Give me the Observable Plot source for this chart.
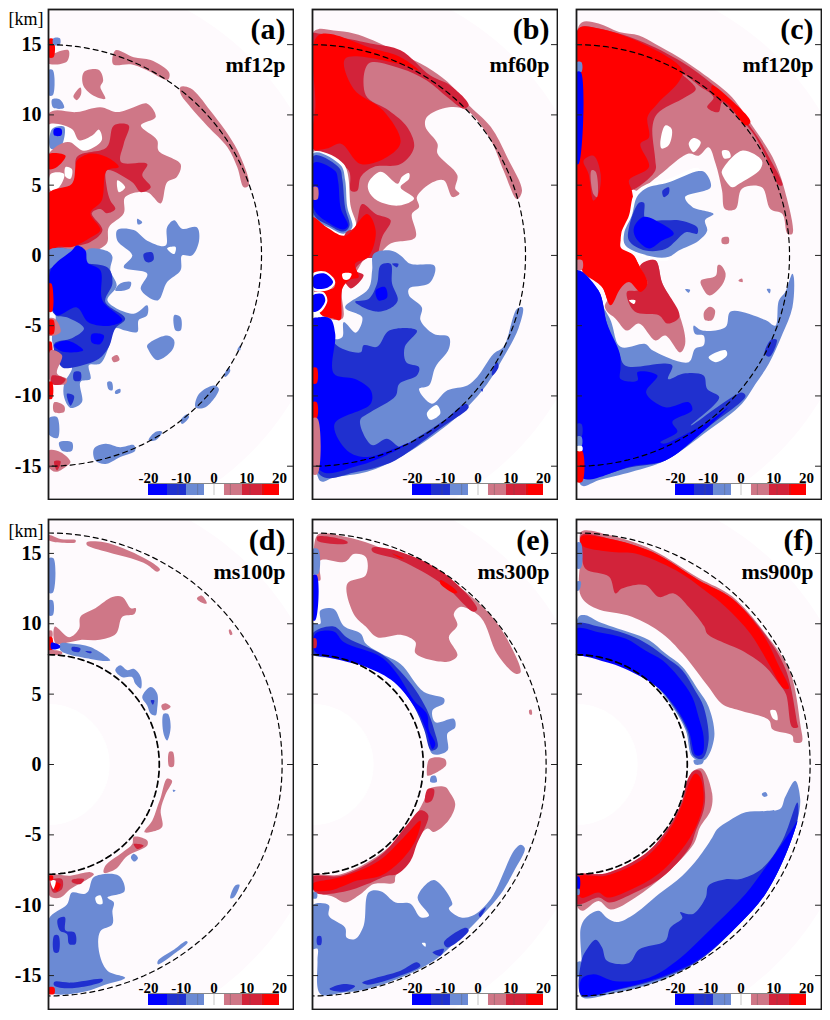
<!DOCTYPE html>
<html>
<head>
<meta charset="utf-8">
<script src="https://cdn.jsdelivr.net/npm/d3@7"></script>
<script src="https://cdn.jsdelivr.net/npm/@observablehq/plot@0.6"></script>
<style>
  body { margin: 0; background: white; }
  #page { position: relative; width: 830px; height: 1020px; overflow: hidden; }
  #page > svg { position: absolute; }
</style>
</head>
<body>
<div id="page"></div>
<script>
// colour levels: -3..3 = strong blue .. strong red, 0 = white gap
const levels = [-3, -2, -1, 0, 1, 2, 3];
const levelColors = ["#0000ff", "#2030cf", "#6b8ad4", "#ffffff", "#cf7787", "#d2233a", "#ff0000"];
const legendBreaks = [-20, -14.2, -8.4, -2.9, 3.2, 8.7, 14.8, 20];
const legendTicks = [-20, -10, 0, 10, 20];
const legendLines = [-11, -5, 0, 5, 11, 15];
const yTicks = [-15, -10, -5, 0, 5, 10, 15];

// each shape: [level, [x, y, x, y, ...]] in km, painted in order
const shapesA = [
  [1,[4.72,14.6,6,14.1,7.2,13.9,8.5,13,8.4,12.5,6.9,13.2,5.8,13.6,4.55,13.6]],
  [1,[9.3,12,10,11.9,11.4,10.3,13.3,7.5,14.1,5,13.75,4.85,13.3,6.25,12.6,7.7,11.2,9.2,10,10.55,9.3,11.5]],
  [1,[0,14.1,1.4,14.6,1.3,13.8,0,13.65]],
  [3,[0,15.4,.35,15.4,.35,14.1,0,14.1]],
  [-1,[.35,15.45,.8,15.45,.8,15,.35,15]],
  [1,[2.5,13.05,3.55,13.2,3.85,12.45,3.65,12,4,11.15,3.3,11.3,2.45,12.1]],
  [1,[1.75,11.3,2.25,11.95,2.3,11.5,2,11.05]],
  [-1,[0,13.2,.3,13.2,.3,11.4,0,11.4]],
  [-1,[.25,11.1,.8,11.1,1.1,10.5,.35,10.5]],
  [1,[0,10.1,2,10.2,3.65,10.55,4.85,10.2,6,10.55,6.95,10.8,7.55,9.85,6.5,9.25,7.65,8.2,7.75,7.45,9.3,6.5,9.05,5.6,8.35,5.2,7.9,3.7,6.95,4.5,5.4,4.15,5.3,3,4.25,2,4.1,.85,2.95,.25,0,.1]],
  [0,[0,9.3,1.65,9,2.15,8.2,3.1,8.55,3.55,8.95,3.75,8.2,2.5,7.45,1.45,8.05,1.05,7,0,7.35]],
  [-1,[.25,9,1.1,9.15,.85,7.7,.15,7.6]],
  [-3,[.4,9,.9,9,.9,8.55,.4,8.55]],
  [1,[0,7.2,1.45,8.05,1.9,6.75,1.8,5.2,0,4.4]],
  [0,[.15,5.8,1.1,5.8,.75,4.85,.15,4.6]],
  [0,[1.2,6.3,1.65,6.15,1.55,5.45,1.2,5.6]],
  [0,[4.85,5.35,5.4,4.85,4.95,4.5]],
  [2,[4.6,9.25,5.65,9.25,5.3,7.95,5.1,6.65,6.95,6.5,6.6,5.7,7.2,4.85,6.5,4.5,5.9,5.2,4.1,6.05,4.1,4.85,4.35,3.9,4.7,3.3,4.1,3,3.65,3.3,3.05,3,3.8,1.8,2.95,.95,1.3,.6,0,.6,0,4.4,1.9,5,2,7,4.1,7.7]],
  [3,[2,6.75,2.95,7.25,4.1,7,4.95,6.3,4.1,6.05,3.75,3.9,2.95,3,3.65,1.8,2.85,1.2,1.65,.6,.6,.6,0,.1,0,4.4,1.65,5.1,1.9,6.3]],
  [3,[0,7.2,1.2,7.1,.6,6.3,0,6.15]],
  [-1,[4.85,1.8,6,1.8,6.95,1.05,8.25,.7,8.35,2,8.85,2.5,9.4,1.9,10.45,2,10.6,1.05,10.1,0,9.4,0,9.3,-1.05,8.35,-1.9,7.7,-3.2,6.5,-2.4,6.95,-1.3,5.3,-.85,5.9,0,4.85,1.05]],
  [0,[8.35,.5,8.95,.6,8.85,.1]],
  [-2,[6.7,.1,7.3,.2,7.4,-.3,7.05,-.5,6.8,-.4]],
  [-1,[6.25,2.6,6.6,2.35,6.3,2.2]],
  [-1,[5.05,-2,5.8,-1.9,5.7,-2.35,4.7,-2.5]],
  [-1,[8.85,-4.25,9.3,-4.4,9.3,-5.35,8.95,-5.35]],
  [-1,[6.95,-6.4,8.35,-5.7,8.85,-6.05,8.7,-6.75,7.65,-7.45,7.05,-6.75]],
  [3,[0,.35,1.55,.35,1.4,-.1,.55,-.35,0,-.85]],
  [-1,[2.6,.35,2.95,.5,4.25,.25,4.5,-.1,4.35,-1.05,4.8,-2.15,4.15,-3.2,6,-4.15,6.95,-3.55,6.95,-4.25,6.35,-4.6,6.25,-5.45,5.4,-5.35,4.7,-5.2,4.25,-6.5,3.65,-7.7,2.85,-7.8,2.95,-8.8,2.25,-9,2.35,-10.45,1.55,-10.85,1.1,-10.1,1.1,-9.15,1.65,-7.95,.85,-7.45,.25,-6.05,.5,-4.25,0,-3.2,0,.35]],
  [-2,[2.85,-.6,4.25,-.95,4.5,-2,4,-3.3,5.4,-4.5,4.7,-5.2,4.25,-6.5,3.55,-7.35,1.8,-7.95,.95,-7.95,.4,-6.3,1.65,-5.9,2.5,-5.2,1.3,-4.4,.5,-4.25,0,-3.2,0,-1.05]],
  [-3,[.15,-1.05,1.65,.35,2,.7,2.6,.35,2.75,-.5,3.65,-1.05,3.8,-3.2,5.2,-4.6,4.35,-5,2.8,-4.75,2,-3.7,.6,-4.25,.15,-3.2]],
  [-3,[3.05,-5.6,3.9,-5.7,3.65,-6.3,3.05,-6.2]],
  [-3,[.4,-6.4,1.3,-6.05,2.45,-6.75,1.3,-6.9,.75,-6.75]],
  [-2,[1.8,-8.3,2.25,-8.3,2.25,-8.9,1.8,-8.9]],
  [-2,[1.3,-9.85,1.8,-10,1.55,-10.7]],
  [-1,[10.6,-9.85,11.65,-9.25,12,-9.5,11.05,-10.8,10.35,-10.8]],
  [-1,[9.3,-11.75,9.75,-11.3,9.9,-11.5,9.4,-12]],
  [-1,[7.05,-13.15,7.55,-12.55,8,-12.55,7.55,-13.15]],
  [-1,[12.35,-8.55,12.7,-8,12.8,-8.2,12.45,-8.65]],
  [-1,[13.3,-6.75,13.5,-6.4,13.5,-6.75]],
  [-1,[3.2,-13.75,4,-13.4,5.05,-13.65,6,-13.5,6.1,-13.9,5.05,-14.35,4,-14.85,3.3,-14.6]],
  [-1,[.75,-13.3,1.65,-13.3,1.65,-13.9,.95,-13.9]],
  [-1,[0,-11.6,.6,-11.5,.65,-13,0,-12.7]],
  [-1,[4.15,-9,4.45,-9,4.5,-9.6,4.25,-9.55]],
  [-1,[4.7,-9.65,5.05,-9.5,5.05,-9.75,4.7,-9.85]],
  [1,[4.45,-7.3,4.85,-7.1,5,-7.45,4.6,-7.6]],
  [1,[0,-4.5,.45,-4.5,.85,-5.45,0,-5.7]],
  [3,[0,-4.6,.35,-4.6,.35,-5.6,0,-5.6]],
  [3,[0,-2,.2,-2,.25,-4,0,-4]],
  [3,[0,-6.15,.2,-6.15,.2,-7.45,0,-7.45]],
  [1,[.15,-6.75,.95,-7.1,.6,-8.4,1.3,-8.8,1.2,-9.15,.15,-9]],
  [2,[.25,-8.55,1.2,-8.8,.95,-9.15,.25,-9.15]],
  [3,[0,-9,.25,-9,.25,-10.2,0,-10.2]],
  [1,[.4,-10.45,1.1,-10.7,1.1,-11.15,.4,-11.15]],
  [1,[0,-13.9,.85,-14,1.55,-14.7,1.2,-15.05,.5,-15.4,0,-15.05]],
  [2,[.4,-14.65,.85,-14.65,.6,-15.3]]
];

const shapesB = [
  [1,[.4,16.1,1.5,16,2.9,15.8,4.3,15.3,6.2,14.35,8.05,13.4,9.5,12.35,10.9,10.8,12.55,9.15,13.7,7,14.75,4.6,14.4,4,13.45,6.05,12.55,8.2,10.9,10.3,9.6,10.55,8.05,9.85,7.95,9.15,8.8,7.95,8.8,7.25,10.2,5.7,10.05,4.75,10.35,4.4,9.85,4.15,9.25,5.35,8.45,5.2,7.35,4.15,7.5,3.45,7,2.95,7.25,1.3,5.5,.85,4.45,-.1,3.85,0,3.15,-1.05,2.1,-2.35,2.1,-4.5,.55,-4.15,0,0,0,15.8]],
  [0,[3.95,5.2,4.8,5.95,6,5.1,6.3,5.6,6.8,5.85,6.8,5.45,6.2,4.85,7.15,4.05,6.1,3.55,4.55,3.9,3.95,4.6]],
  [2,[.4,15.8,4.3,15.05,6.2,14.6,8.3,12.8,9.7,12.1,11,10.7,10.65,10.45,9.5,11.25,8.05,12.45,6.2,13.3,3.95,13.65,3.75,11.4,5.4,10.3,6.65,9.15,7.15,7.7,6.2,6.5,4.3,6.3,3.4,5.6,3.15,4.6,2.7,4.6,2.55,6.05,0,7.7,0,15.8]],
  [3,[.4,15.65,4.3,14.7,6.2,14.1,7.5,13.15,6.2,13.6,2.3,14,2.9,11.85,5,10.3,6.2,8.05,5.25,7,3.4,6.5,2,7.95,1,7.6,0,7.6,.2,10.55]],
  [0,[0,7.35,2.2,6.5,2.7,3.45,3.05,2.05,2.2,1.3,0,2.95]],
  [-1,[.1,7.3,2,6.4,2.3,5.35,2.45,3.45,2.8,2,2.2,1.55,1.15,2,.1,2.7]],
  [-2,[.1,7.1,1.9,6.2,2.1,5.4,2.3,3.4,2.6,2.1,2.2,1.7,1.15,2.15,.1,2.9]],
  [-3,[.1,6.6,1.6,6,1.8,5.3,2,3.3,2.5,2.1,2.15,1.85,1.15,2.3,.1,3.3]],
  [1,[0,4.85,.35,4.85,.35,4,0,4]],
  [2,[3.5,3.65,4.45,2.95,5.5,2.5,4.9,1.3,4.45,-.1,3.75,-.25,3,-1.05,3.6,-1.4,2.7,-2.35,2.2,-1.9,2,-3.2,2.3,1.55,3,2]],
  [3,[0,2.7,1,2,2.3,1.4,3.85,2.95,4.45,1.75,3.95,-.1,3,-.6,3.25,-1.55,2.7,-1.7,2.1,-2.35,1.95,-4.6,1.5,-4.5,.55,-4.15,.8,-3,.2,-2.5,1.5,-2.3,1.5,-1.6,0,-1.2]],
  [0,[0,-1.3,.9,-1.15,1.6,-1.9,1.15,-2.45,0,-2.45]],
  [-3,[.1,-1.45,.9,-1.3,1.45,-1.9,1.05,-2.3,.1,-2.3]],
  [0,[0,-2.7,.75,-2.6,1.05,-3.2,.55,-4.05,0,-4.15]],
  [-3,[0,-2.85,.7,-2.75,.9,-3.2,.45,-3.9,0,-4]],
  [0,[2.1,-1.3,2.75,-1.3,2.55,-1.7,2.2,-1.7]],
  [-1,[4.3,.1,5.5,.35,6.2,0,6.9,-.6,8.55,-.7,8.65,-1.05,8.2,-2,6.8,-2.35,6.8,-2.85,7.7,-3.7,7.6,-4.6,8.55,-5.6,9.6,-5.8,9.6,-6.65,8.65,-7.95,8.2,-9.25,7.5,-9.5,8.4,-10.55,9.5,-9.6,10.9,-9.25,11.6,-8.65,12.75,-7,13.45,-6.5,14.4,-3.8,14.8,-3.7,14.5,-5.2,13.45,-7.25,12.3,-9.15,10.9,-10.8,9,-12.45,6.2,-14.35,3.85,-15.4,1.5,-15.8,.55,-16.05,.4,-4.75,1.5,-5.95,2.1,-5.8,2.2,-4.75,3.05,-5.5,3.5,-4.4,2.3,-3.7,3.95,-2.35,4.2,-1.05]],
  [0,[8.05,-11.25,8.75,-10.65,9,-11.25,8.3,-11.7]],
  [-2,[4.8,-.7,5.5,-.6,5.6,-2,6,-3.2,5.4,-3.8,4.45,-4,3,-3.3,3.95,-3.1,4.55,-2]],
  [-2,[5.6,-.6,6.05,-.6,5.95,-.85]],
  [-3,[4.45,-2.5,5.1,-2.25,5.25,-3,4.65,-3.2]],
  [-2,[1.6,-6.3,3.4,-6.9,3.6,-6.4,4.55,-6.5,5.4,-5.35,7.35,-5.35,6.5,-6.5,6.6,-7.6,7.5,-7.95,7.35,-8.55,6.1,-9.15,5.85,-10,4.1,-11.15,3.35,-11.75,4.2,-13.5,5.25,-13.05,6.2,-13.65,7.25,-13.05,9.25,-11.75,10.8,-10.55,11,-10.8,9,-12.3,6.45,-14.2,5.25,-14.85,3.15,-15.4,.55,-15.65,.4,-4.4,1.5,-5.35]],
  [-3,[.4,-4.5,1.25,-4.5,1.6,-5.6,1.5,-8.4,3,-8.8,4.1,-9.6,4.1,-10.55,1.55,-12,2.45,-13.9,3.85,-14.35,6.9,-13.3,5.25,-14.2,3.25,-14.95,.55,-15.3]],
  [-3,[0,-4.5,.5,-4.5,.5,-7.2,0,-7.2]],
  [-2,[12.65,-8.2,13,-7.6,13.1,-7.95,12.65,-8.55]],
  [-2,[11.85,-9.55,12,-9.5,11.95,-9.7]],
  [3,[0,-8,.3,-8,.3,-9.1,0,-9.1]],
  [3,[0,-10.45,.3,-10.45,.3,-11.6,0,-11.6]],
  [1,[0,-11.6,.35,-11.6,.35,-15.55,0,-15.55]]
];

const shapesC = [
  [1,[.4,16.6,1.55,16.5,3,15.9,4.4,15.65,5.55,15.05,7.2,14.1,9.55,12.45,10.95,11.25,12.6,8.9,13.8,7,14.6,4.85,15.2,1.55,14.85,1.55,14.5,2.95,13.65,3.3,13.05,4.85,11.65,4.75,11.2,3.3,10.45,3.3,10.25,4.6,9.8,6.5,9.3,7.7,8.6,7.1,7.9,7.25,5.7,5.6,4.3,4.6,3.7,4.85,0,4.85,0,15.8]],
  [0,[10.25,7.45,10.7,7.45,10.85,7,10.4,6.9]],
  [0,[10.25,6.05,11.65,7.45,13.05,6.75,12.95,6.15,11.45,5.1,10.95,4.85,10.25,5.8]],
  [0,[7.9,7.95,8.25,8.35,8.75,8.05,8.25,7.35]],
  [0,[5.9,7.95,6.25,9.25,6.7,9,6.5,7.85,6,7.6]],
  [2,[.3,16.25,1.55,16.15,4.4,15.3,7.45,13.75,9.55,12.2,10.95,10.8,12.6,8.65,13.55,7,14.5,5,14.25,5,13.3,7.1,12.35,8.8,10.95,10.3,10.25,10.9,10,10.2,9.2,10.55,9.65,11.25,8.6,12.1,7.7,12.8,7.45,12.9,8.4,11.85,7.65,11.25,5.7,10.1,5.35,9.15,5.55,6.75,5.55,6.05,4.3,4.85,3.7,4.6,0,4.6,0,15.8]],
  [3,[.3,16.25,1.55,16.15,4.4,15.2,7.45,13.2,7.2,12.35,5.7,10.8,5,9.85,5.1,8.4,4.5,7.95,5.1,6.3,3.7,5.35,3.9,4.6,4.05,2.95,3.45,1.8,3.1,.6,3.9,.1,4.4,-.7,5,-2,4.5,-2.6,3.7,-1.9,3.1,-2.35,2.4,-3.55,1.8,-2.25,.4,-1.05,0,-.85,0,15.8]],
  [3,[9.55,12.1,10.95,11,12.25,9.5,11.9,9.25,10.75,10.7,9.55,11.6]],
  [2,[.5,6.75,1.2,7.1,1.7,5.8,1.55,4.4,1.2,3.9,.85,5.8]],
  [1,[1.05,6.05,1.35,5.95,1.45,4.15,1.2,4.35]],
  [-1,[0,13.75,.35,13.75,.35,13.05,0,13.05]],
  [-3,[0,13.05,.3,13.05,.15,6.5,0,6.5]],
  [0,[4.05,4.35,4.8,5,6.5,5.45,8.6,6.2,8.7,5,5,1,6.5,-.3,5.4,-.3,3.25,.6,3.15,1.55,3.7,2.85]],
  [-1,[4.25,4.15,4.85,4.75,6.5,5.2,8.6,6,9.05,5.9,9.45,4.85,7.65,4.15,8.15,3.45,9.65,2.95,9.05,2.5,9.2,1.75,8.6,1.05,7.2,.35,6.5,-.1,5.4,-.1,3.45,.7,3.35,1.55,3.9,2.85]],
  [-2,[4.4,3.75,4.75,3.75,4.85,2.6,6.25,2.5,7.2,2.5,8.5,2,8.5,1.55,7.7,1.65,7,1.05,6.25,.45,4.85,.35,3.7,1.05,3.7,2]],
  [-2,[6.05,4.6,6.5,4.85,6.5,4.4,6.15,4.15]],
  [-3,[4.05,2,4.75,2.75,6,2.25,6.85,1.55,6,1.05,5.1,.5,4.15,1.3]],
  [1,[10.25,1.25,10.7,1.3,10.7,.85,10.25,.85]],
  [1,[4.5,-.7,5.55,-.35,6.05,-2,7.3,-4.4,7.65,-6.3,7.3,-6.9,6.25,-5.7,5.55,-6.05,4.4,-4.85,3.55,-5.35,2.75,-4.5,2.15,-4,2,-3.55,3.1,-2.25]],
  [2,[4.5,-.7,5.55,-.35,6.05,-2,7.25,-4.35,6.4,-4.85,5.8,-4.25,4.1,-4,3.55,-2.6,4.3,-2.5,5,-2]],
  [3,[3.9,.1,4.4,-.7,5,-2,4.5,-2.6,3.7,-1.9,3.1,-2.35,2.4,-3.55,1.8,-2.25,.4,-1.05,2,.1]],
  [0,[3.7,-3.2,4.15,-3.2,4.05,-3.45]],
  [1,[8.75,-1.8,9.8,-1.45,9.95,-.7,10.15,-.7,10.5,-1.3,10.25,-2.1,9.35,-2.85,8.85,-2.25]],
  [1,[9.05,-3.9,9.4,-3.65,9.75,-3.9,9.55,-4.6,9.05,-4.6,8.95,-4.15]],
  [1,[11.4,-1.8,11.65,-1.65,11.7,-1.9]],
  [-1,[2.3,-4.4,3.1,-6.5,4.85,-6.3,5.35,-6.75,7.9,-7.6,8.35,-6.65,8.95,-6.4,8.95,-5.7,8.35,-5.6,8.25,-5,8.85,-5.35,10.5,-5.1,10.85,-4,13.3,-4.6,14,-5,14.25,-3.2,14.7,-2.6,15.2,-1.3,15.3,-1.55,15.2,-3.7,14.5,-5.6,13.55,-7.7,12.6,-9.15,11.65,-10.55,9.3,-12.45,6.25,-14.6,3.9,-15.4,1.55,-16,.4,-16.4,0,-15.05,0,-1.3]],
  [0,[9.3,-7.25,10.5,-6.75,10.6,-7.1,9.8,-7.6]],
  [-1,[13.4,-2.4,13.65,-2.4,13.6,-2.7]],
  [-1,[7.65,-2.4,8,-2.45,7.9,-2.65]],
  [-2,[2.15,-4.9,3,-7,3.45,-7.85,6.25,-7.7,6.75,-7.85,6.45,-8.8,7.55,-8.4,8.95,-8.55,9.2,-9.5,10.05,-10.1,8.05,-12.1,11.65,-9.75,11.9,-10,9.55,-12,6.25,-14.6,3.9,-15.05,.4,-15.65,0,-11.5,0,-1.3,1.55,-2.5]],
  [-3,[0,-1.05,1.55,-2.5,2.15,-4.85,3.05,-7,3.1,-8,3.1,-8.8,4.3,-8.9,4.3,-8.3,5.7,-8.55,4.9,-9.75,6.25,-10.8,7.9,-10.45,8.15,-11,6.75,-11.85,7.1,-12.55,5.9,-13.3,6.15,-13.4,8.4,-12.35,9.3,-11.85,10.7,-10.8,8.6,-12.8,6.25,-14.6,3.9,-15,.5,-15.9,0,-14.8]],
  [-2,[13.7,-6,14.1,-6,13.6,-7.2,13.25,-7]],
  [3,[0,-13.9,.4,-13.9,.4,-16.1,0,-16.1]],
  [-2,[0,-12,.35,-12,.35,-12.9,0,-12.9]],
  [-1,[0,-12.9,.35,-12.9,.35,-13.6,0,-13.6]],
  [0,[0,-13.6,.4,-13.6,.4,-13.9,0,-13.9]],
  [1,[0,-.35,.4,-.35,.4,-1,0,-1]]
];

const shapesD = [
  [1,[0,16.3,.95,16,1.9,15.95,1.9,15.8,1.1,15.75,0,15.95]],
  [1,[2.7,15.8,3.9,15.8,5.3,15.35,7.2,14.4,7.85,13.85,7.65,13.7,6.95,14.2,5.8,14.65,4.15,15.1,2.7,15.6]],
  [1,[10.45,11.8,10.8,12,11.15,11.45,10.8,11.5]],
  [1,[12.7,9.55,12.8,9.6,12.95,9.25,12.8,9.2]],
  [1,[2.25,10.5,3.3,11.1,4.5,11.9,5.2,11.9,5.8,11.1,6.15,11.1,6.05,10.7,5.2,10.5,4.75,9.3,3.45,8.85,2.25,8.85,1.55,8.7,.5,8.6,.45,9.8,1.45,9.05,2.15,9.65]],
  [-1,[0,14.65,.35,14.65,.3,12.2,0,12.2]],
  [-1,[0,11.65,.3,11.65,.3,10.6,0,10.6]],
  [-1,[.85,8.6,1.55,8.6,2.95,8.35,4.35,7.4,4.1,7.35,2.95,7.5,.85,8.1]],
  [-2,[1.65,8.35,2.25,8.25,2.15,8,1.65,8.1]],
  [-2,[2.6,8.05,3.05,8,2.95,7.9]],
  [1,[0,9.5,.25,9.5,.25,9.05,0,9.05]],
  [3,[0,9.05,.25,9.05,.25,8.1,0,8.1]],
  [-3,[.2,8.65,.8,8.45,.8,8.3,.2,8.2]],
  [1,[0,8.1,.95,8,.95,7.85,0,7.85]],
  [-1,[4.7,6.7,5.05,7.05,5.55,6.7,6,6.8,6.5,6.2,6.5,5.4,6.1,5.75,5.9,6.2,5.2,6.2]],
  [-1,[6.6,4.8,7.2,5.5,7.65,5.05,7.65,3.95,7.55,3.5,7.2,3.6,6.95,4.2]],
  [-2,[7.2,4.55,7.45,4.55,7.35,4.25]],
  [-1,[8.1,3.6,8.4,3.6,8.6,2.65,8.35,1.7,8.1,2.2]],
  [1,[7.95,4.2,8.25,4.35,8.6,4.1,8.1,3.85]],
  [1,[8.5,.9,8.75,.9,8.8,-.15,8.5,-.15]],
  [1,[8.35,-1,8.7,-1.15,8.25,-2.1,7.9,-3.25,8,-4.45,7.2,-4.8,6.75,-4.8,7.3,-4,7.65,-3.05,7.9,-2.35]],
  [1,[6,-5.15,6.95,-5.4,6.95,-5.75,5.55,-6.5,4.7,-7.45,3.9,-7.7,4,-7.2,5.2,-6.25,5.9,-5.65]],
  [2,[6,-5.65,6.7,-5.75,6.25,-6]],
  [-1,[5.8,-6.6,6,-6.35,6.3,-6.65,6.05,-6.9]],
  [-1,[8.75,-1.8,8.95,-1.85,8.8,-1.95]],
  [1,[0,-7.9,1.55,-7.9,2.95,-7.65,3.2,-7.8,2.6,-8.25,1.55,-8.85,.85,-9.45,.25,-9.45,0,-9.2]],
  [2,[1.65,-8.2,2.5,-8.15,2.25,-8.5,1.65,-8.35]],
  [2,[.15,-8.25,.95,-8.15,.95,-8.85,.35,-9.1]],
  [3,[.25,-8.35,.85,-8.5,.6,-9]],
  [0,[.15,-8.25,.5,-8.25,.35,-8.85]],
  [3,[0,-7.9,.3,-7.9,.3,-8.2,0,-8.2]],
  [-1,[3.2,-8,4.95,-7.9,5.35,-9,4.15,-9.45,4.6,-9.8,4.5,-10.4,4.5,-11.35,3.65,-11.85,3.55,-13.25,4.15,-14.65,5.4,-15.15,4.15,-15.6,2.25,-16.2,0,-16.1,0,-11,1.3,-9.95,1.65,-9.1,2.5,-9.2,2.8,-9]],
  [0,[3.3,-9.45,3.65,-9.3,3.8,-9.9,3.45,-9.9]],
  [3,[0,-15.85,.4,-15.85,.4,-16.3,0,-16.3]],
  [-2,[.65,-11,1.15,-10.85,1.2,-11.8,1.85,-11.95,1.9,-12.75,1.45,-12.75,1.3,-12.05,.8,-11.8]],
  [-2,[.4,-12.15,.7,-12.15,.7,-13.35,.4,-13.35]],
  [-2,[.4,-15.45,1.55,-15.5,3.8,-15.25,3.8,-15.4,1.55,-15.9,.4,-15.7]],
  [-1,[7.7,-13.95,8.85,-13.15,9.7,-12.55,9.8,-12.65,9,-13.35,7.7,-14.2]],
  [-1,[13.15,-8.6,13.45,-8.55,13.05,-9.45,12.8,-9.5]]
];

const shapesE = [
  [1,[.35,16.3,2.2,16.2,4.3,15.6,6.9,14.4,9.25,13.35,11.35,11.8,13.2,9.75,14.65,6.55,14.3,6.45,13,7.85,11.85,10.45,10.4,11.2,9.95,10.7,10.2,9.9,9.6,9.05,10.2,7.75,9.5,7.3,7.25,7.9,7.25,8.7,6.3,9.2,4.55,9.05,3.75,9.8,2.9,10.7,2.45,12.85,3.75,13.45,3.75,14.75,2.9,14.95,2.3,14.4,.55,14.5,.55,13.1,.35,13.1]],
  [2,[.35,16.2,2.45,15.85,2.45,15.7,.35,15.9]],
  [2,[4.2,15.4,6.2,15.1,9.25,13.6,11.6,11.05,11.35,10.85,9.25,12.75,6.2,14.5,4.2,15.15]],
  [3,[5.6,15,6.45,14.65,6.2,14.65]],
  [3,[9,13.1,10.2,12.25,10.05,12.15,9,12.85]],
  [-1,[0,15.3,.4,15.3,.4,13.55,0,13.55]],
  [-3,[0,13.45,.3,13.45,.2,10.25,0,10.25]],
  [-1,[.55,10.95,1.5,11.05,2.2,9.85,3.4,9.3,3.75,8.6,4.9,7.85,6.2,7.15,7.85,5.15,9.25,4.7,9.25,4.35,8.45,3.85,8.65,3,9.95,3.25,10.05,2.65,9.5,2.2,9.5,1,8.45,.75,8,2.4,7.4,4.1,5.75,6.25,3.85,7.15,2,7.6,0,7.85,0,10,.55,10]],
  [-2,[0,9.3,1.5,9.8,2.45,9,5,7.75,6.2,6.6,7.25,5.3,8.05,3.9,8.55,2.5,8.8,1.2,8.35,1,7.85,2.5,7.15,4.1,5.75,5.95,3.85,7.05,2,7.55,0,7.9]],
  [-3,[.2,9.3,1.5,9.45,2.2,8.7,4.8,7.65,5.95,6.45,7.15,4.55,8.05,3.6,8.2,2.45,8.65,1.45,8.45,1.1,8,2.45,7.35,3.85,5.75,5.85,3.85,6.9,2,7.4,.2,8]],
  [2,[0,8.95,.25,8.95,.25,8.3,0,8.3]],
  [1,[8.25,.4,9.3,.4,9.4,-.05,8.1,-.8,8.05,-.65]],
  [1,[15.25,3.85,15.4,3.9,15.45,3.55,15.3,3.55]],
  [-1,[8.35,-.85,8.65,-.8,8.75,-1.25,8.3,-1.25]],
  [1,[8.2,-1.75,9.35,-1.6,9.7,-2.05,10.05,-2.8,9.6,-3.95,8.55,-4.8,8.1,-4.55,7,-5.9,6.75,-6.85,5.85,-7.9,5.75,-8.4,4.3,-8.5,3.4,-9.2,2.3,-9.8,1.45,-9.4,.3,-9.05,0,-8.25,0,-7.9,2,-7.8,4.8,-6.35,6.9,-4.2,7.85,-2.55]],
  [2,[8.1,-1.75,8.55,-1.75,8.4,-2.55,7.95,-2.7]],
  [2,[7.6,-3.25,8.15,-3.6,7.35,-5.65,6.9,-6.85,5.95,-7.8,5.25,-7.9,3.85,-8.5,2.2,-9.05,.2,-9.1,0,-8,2,-7.9,4.8,-6.45,6.65,-4.3]],
  [3,[7.6,-4,7.25,-5.4,6.2,-6.85,4.8,-7.9,3.15,-8.25,1.25,-8.95,.1,-8.9,0,-8.5,2,-8,4.65,-6.85,6.4,-5.2]],
  [-1,[0,-10,1.15,-10,1.15,-10.75,2.3,-11.6,2.4,-12.3,3,-12.4,3.6,-11.45,3.95,-9.1,4.8,-9,5.85,-9.8,6.9,-9.9,7.6,-10.85,8.2,-10.75,7.4,-9.45,8.55,-8.2,9.85,-9.9,9.6,-10.25,10.4,-10.85,11.25,-10.75,12.55,-9.55,14.2,-6.1,14.65,-5.7,14.95,-5.95,14.2,-7.55,13.25,-9.2,12.05,-10.6,10.4,-12.3,8.55,-13.95,6.2,-15.15,3.85,-15.95,2.2,-16.2,.55,-16.3,.35,-13.95,.35,-13.1,0,-13.1]],
  [0,[7.7,-12.7,7.95,-12.7,7.95,-12.95]],
  [-2,[.35,-12.2,.6,-12.2,.6,-12.8,.35,-12.8]],
  [-2,[1.2,-15.95,2.2,-15.6,3,-15.75,2.2,-16.15]],
  [-2,[3.5,-15.5,6.2,-14.65,7.35,-14.05,7.6,-14.3,6.2,-15,3.85,-15.65]],
  [-2,[8.45,-13.35,9.25,-13.1,9,-13.6]],
  [-2,[9.25,-12.65,10.8,-11.6,11,-11.8,9.5,-13]],
  [-2,[11.7,-10.65,12.2,-10.15,12.05,-10.5,11.8,-10.85]],
  [-1,[0,-9.1,.3,-9.1,.3,-9.5,0,-9.5]]
];

const shapesF = [
  [1,[.35,16.55,2.3,16.3,5.35,15.25,8.6,13.25,10.95,11.95,13.3,9.3,15,6.7,15.75,2.9,15.85,1.6,15.3,1.6,15.2,2.05,13.8,2.5,13.55,3.15,11.45,3.85,10.25,4.3,9.3,5.5,7.45,7.9,6.05,9.3,3.9,10.5,1.35,11.1,.3,12,.3,15]],
  [0,[13.65,3.85,14,3.85,14.15,3.15,13.85,3.25]],
  [2,[.35,16.3,2.3,16.05,5.35,15.1,8.6,13.1,10.95,11.8,13.3,9.2,14.75,6.7,15.55,2.9,15.6,2.65,15.2,2.65,14.75,5,14.25,5.75,13.3,6.95,11.65,8.1,10.5,8.6,9.2,9.3,9,9.8,7.9,11.2,6.85,12.15,5.8,11.9,4.85,12.75,3.2,12.5,2.75,12.15,2.3,13.35,.65,13.9,.35,15]],
  [3,[.35,16.2,2.3,16.05,5.35,15.1,8.6,13.1,10.95,11.8,13.1,9.3,14.25,7,14.95,5.4,14.6,5.4,13.55,7.15,12.25,9.3,10.5,11.2,9,12.4,7,13.8,4.15,15,2.5,15.1,.35,15.6]],
  [-1,[0,15.75,.3,15.75,.3,13.95,0,13.95]],
  [-1,[0,13,.3,13,.2,12.4,0,12.35]],
  [-1,[.15,10.5,.65,10.6,1.55,10.15,3.7,9.4,5.1,8.85,6.25,7.9,7.45,6.95,8.6,5.25,9.3,4.1,9.7,1.95,9,.3,8.15,.55,7.7,2.4,6.75,4.1,5.35,5.85,3.2,7.3,1.35,7.9,0,7.9]],
  [-2,[0,10,1.55,9.8,3.7,9.2,5.1,8.5,6.25,7.65,7.45,6.7,8.35,5.25,8.95,4.1,9.3,1.7,8.85,.4,8.25,.6,7.8,2.4,6.85,4.1,5.45,5.85,3.2,7.2,1.35,7.8,0,7.8]],
  [-3,[0,9.65,1.55,9.4,3.45,8.95,4.85,8.1,6.05,7.4,7.2,6.2,8.15,4.8,8.6,3.35,8.95,1.95,8.85,.75,8.4,.65,7.9,2.4,6.95,4.1,5.55,5.6,3.2,6.9,1.35,7.5,0,8]],
  [-1,[8.25,.3,8.95,.3,8.85,.05,8.35,0]],
  [1,[8.25,-.45,8.85,-.3,9.55,-2.05,9.45,-3.25,8.7,-4.45,8.25,-5.65,6.25,-7.8,4.15,-9.45,2.4,-10.3,1.55,-9.7,.4,-10.4,0,-10,0,-7.9,2.05,-7.75,4.85,-6.35,6.5,-4.45,7.45,-2.55,7.8,-1.15]],
  [2,[8.25,-.45,8.7,-.45,9.05,-2.05,8.95,-3.25,8.4,-4.7,7.95,-5.9,6.05,-8,3.9,-9.2,2.3,-9.8,1.55,-9.45,.4,-9.9,0,-9.9,0,-7.9,2.05,-7.75,4.85,-6.35,6.5,-4.45,7.45,-2.55,7.8,-1.15]],
  [3,[8.35,-.65,8.7,-.9,8.95,-2.45,8.5,-4.2,7.7,-5.65,5.8,-7.75,3.7,-8.95,2.15,-9.45,1.55,-9.1,.3,-9.45,.15,-8,2.05,-7.9,4.85,-6.6,6.5,-4.7,7.45,-2.8,8,-1.15]],
  [-3,[0,-8,.2,-8,.2,-8.85,0,-8.85]],
  [-1,[0,-8.85,.2,-8.85,.2,-9.25,0,-9.25]],
  [-1,[.3,-11.6,.65,-10.9,1.55,-10.4,2.15,-10.9,2.85,-11.2,3.9,-10.75,5.8,-9.2,7.45,-7.9,8.6,-6.6,9.55,-5.2,9.9,-4.6,10.75,-4,11.9,-3.4,13.3,-3.3,14.35,-3.15,14.7,-2.3,15.4,-1.15,15.75,-2.45,15.55,-4,14.75,-6.35,13.3,-9.2,11.45,-11.35,8.6,-13.95,5.8,-15.4,2.75,-16.2,.35,-16.5,.3,-14,0,-14.1,0,-15.1,.3,-15]],
  [-1,[13.05,-2.1,13.3,-1.95,13.45,-2.2,13.2,-2.3]],
  [-2,[.35,-13.95,.65,-13.25,1.35,-12.45,1.8,-13,2.15,-13.95,3.7,-14.1,4.4,-13.15,6.25,-12.55,6.6,-11.6,7.45,-10.9,7.3,-10.5,7.7,-10.6,8.25,-10.6,9.1,-9.45,9.3,-8.6,10.5,-8.15,11.45,-8.15,13.05,-7.4,14.5,-5.4,15.55,-2.7,15.6,-3.65,14.75,-6.35,13.3,-9.2,11.45,-11.35,8.6,-13.95,5.8,-15.25,2.75,-16.05,.35,-16.4]],
  [-3,[.35,-15.25,1.2,-14.9,2.75,-15.4,5.1,-15.15,7,-14,9.8,-11.35,11.9,-9.2,13.8,-6.6,15.2,-4.55,15.55,-4,14.75,-6.35,13.3,-9.2,11.45,-11.35,8.6,-13.85,5.8,-15.15,2.75,-16,.35,-16.4]]
];

const panels = [
  {tag: "(a)", name: "mf12p", shapes: shapesA, circles: [15], left: 0, top: 8, col: 0, row: 0},
  {tag: "(b)", name: "mf60p", shapes: shapesB, circles: [15], left: 311, top: 8, col: 1, row: 0},
  {tag: "(c)", name: "mf120p", shapes: shapesC, circles: [15], left: 575, top: 8, col: 2, row: 0},
  {tag: "(d)", name: "ms100p", shapes: shapesD, circles: [7.8, 16.45], left: 0, top: 518, col: 0, row: 1},
  {tag: "(e)", name: "ms300p", shapes: shapesE, circles: [7.8, 16.45], left: 311, top: 518, col: 1, row: 1},
  {tag: "(f)", name: "ms900p", shapes: shapesF, circles: [7.8, 16.45], left: 575, top: 518, col: 2, row: 1}
];

const xMax = 17.25;
const serif = "Liberation Serif";
const color = {type: "ordinal", domain: levels, range: levelColors};

function arc(r) {
  return d3.range(0, 181, 2).map(a => ({
    x: r * Math.sin(a * Math.PI / 180),
    y: r * Math.cos(a * Math.PI / 180)
  }));
}

function rowsOf(shapes) {
  const rows = [];
  shapes.forEach(([level, pts], id) => {
    for (let i = 0; i < pts.length; i += 2) rows.push({id, level, x: pts[i], y: pts[i + 1]});
  });
  return rows;
}

const page = document.getElementById("page");

panels.forEach(p => {
  const first = p.col === 0;
  const yDomain = p.row === 0 ? [-17.37, 17.5] : [-17.41, 17.41];
  const inner = p.circles.length > 1;
  const chart = Plot.plot({
    width: first ? 294 : 247,
    height: 492,
    marginLeft: first ? 48 : 1,
    marginRight: 1,
    marginTop: 1,
    marginBottom: 1,
    style: {background: "transparent", color: "black"},
    x: {domain: [0, xMax], axis: null},
    y: {domain: yDomain, axis: null},
    color,
    marks: [
      Plot.line(arc(20), {x: "x", y: "y", fill: "#fefafd", stroke: "none", clip: "frame"}),
      inner ? Plot.line(arc(4.3), {x: "x", y: "y", fill: "white", stroke: "none"}) : null,
      Plot.line(rowsOf(p.shapes), {
        x: "x", y: "y", z: "id", fill: "level", stroke: "none",
        curve: "catmull-rom-closed", clip: "frame"
      }),
      p.circles.map((r, i) => Plot.line(arc(r), {
        x: "x", y: "y", stroke: "black",
        strokeWidth: inner && i === 0 ? 1.7 : 1.2,
        strokeDasharray: inner && i === 0 ? "6,4" : "5,4"
      })),
      Plot.ruleY(yTicks, {y: d => d, x1: 0, x2: 0.42, stroke: "#222", strokeWidth: 1}),
      Plot.ruleY(yTicks, {y: d => d, x1: xMax - 0.42, x2: xMax, stroke: "#222", strokeWidth: 1}),
      first ? Plot.axisY(yTicks, {
        anchor: "left", tickSize: 0, tickPadding: 7, label: null, tickFormat: d => String(d),
        fontFamily: serif, fontSize: 20, fontWeight: "bold"
      }) : null,
      first ? Plot.text(["[km]"], {
        x: 0, y: p.row === 0 ? 16.8 : 16.6, text: d => d, textAnchor: "end", dx: -5,
        fontFamily: serif, fontSize: 18
      }) : null,
      Plot.text([p.tag], {
        frameAnchor: "top-right", text: d => d, dx: -8, dy: p.row === 0 ? 8 : 9,
        fontFamily: serif, fontSize: 30, fontWeight: "bold"
      }),
      Plot.text([p.name], {
        frameAnchor: "top-right", text: d => d, dx: -8, dy: p.row === 0 ? 47 : 44,
        fontFamily: serif, fontSize: 22, fontWeight: "bold"
      }),
      Plot.frame({stroke: "#1a1a1a", strokeWidth: 1.8})
    ]
  });
  chart.style.left = p.left + "px";
  chart.style.top = p.top + "px";
  page.append(chart);

  // colour key at the bottom right of the panel
  const legendRows = levels.map((level, i) => ({level, x1: legendBreaks[i], x2: legendBreaks[i + 1]}));
  const key = Plot.plot({
    width: 171,
    height: 36,
    marginLeft: 20,
    marginRight: 20,
    marginTop: 20,
    marginBottom: 4,
    style: {background: "transparent", color: "black"},
    x: {domain: [-20, 20], axis: null},
    y: {domain: [0, 1], axis: null},
    color,
    marks: [
      Plot.rect(legendRows, {x1: "x1", x2: "x2", y1: 0, y2: 1, fill: "level"}),
      Plot.ruleX(legendLines, {x: d => d, y1: 0, y2: 1, stroke: "#555", strokeOpacity: 0.35}),
      Plot.ruleY([1], {stroke: "#888", strokeWidth: 1}),
      Plot.text(legendTicks, {
        x: d => d, y: 1, text: d => String(d), lineAnchor: "bottom", dy: -1,
        fontFamily: serif, fontSize: 15, fontWeight: "bold"
      })
    ]
  });
  const barLeft = [148, 412, 675][p.col];
  key.style.left = (barLeft - 20) + "px";
  key.style.top = (p.row === 0 ? 463 : 973) + "px";
  page.append(key);
});
</script>
</body>
</html>
